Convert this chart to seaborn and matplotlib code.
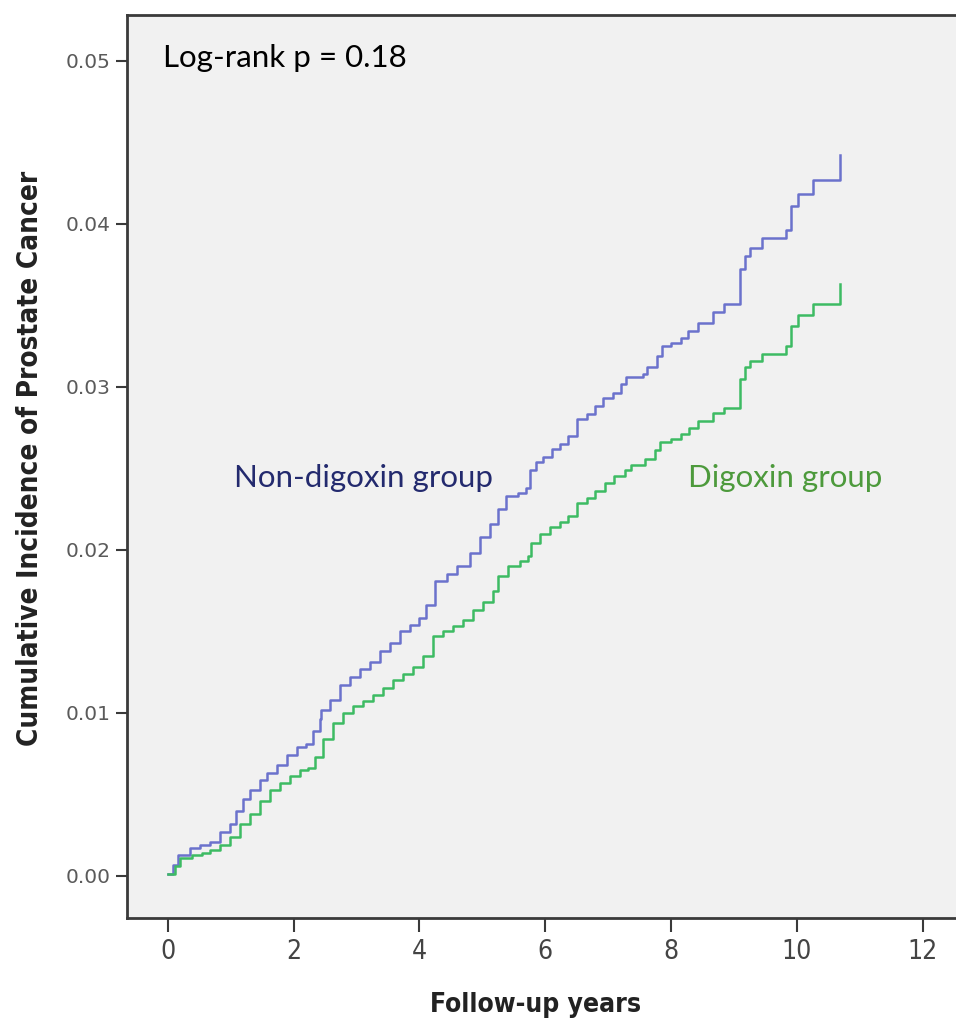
import pandas as pd
import matplotlib
matplotlib.use("Agg")
import matplotlib.pyplot as plt
import seaborn as sns

# step points (follow-up years, cumulative incidence)
non_dig_years = [0.00, 0.08, 0.16, 0.35, 0.51, 0.67, 0.83, 0.99, 1.09, 1.20,
                 1.30, 1.46, 1.57, 1.73, 1.89, 2.05, 2.20, 2.31, 2.42, 2.44,
                 2.58, 2.73, 2.89, 3.05, 3.21, 3.37, 3.53, 3.69, 3.85, 4.00,
                 4.11, 4.24, 4.43, 4.59, 4.80, 4.96, 5.12, 5.25, 5.38, 5.57,
                 5.70, 5.76, 5.86, 5.97, 6.10, 6.23, 6.36, 6.50, 6.66, 6.79,
                 6.92, 7.08, 7.20, 7.28, 7.56, 7.61, 7.77, 7.85, 8.00, 8.16,
                 8.27, 8.43, 8.67, 8.84, 9.09, 9.17, 9.25, 9.44, 9.83, 9.91,
                 10.02, 10.26, 10.68]
non_dig_inc = [0.0001, 0.0007, 0.0013, 0.0017, 0.0019, 0.0021, 0.0027, 0.0032, 0.0040, 0.0047,
               0.0053, 0.0059, 0.0063, 0.0068, 0.0074, 0.0079, 0.0081, 0.0089, 0.0096, 0.0102,
               0.0108, 0.0117, 0.0122, 0.0127, 0.0131, 0.0138, 0.0143, 0.0150, 0.0154, 0.0158,
               0.0166, 0.0181, 0.0185, 0.0190, 0.0198, 0.0208, 0.0216, 0.0225, 0.0233, 0.0235,
               0.0238, 0.0249, 0.0254, 0.0257, 0.0262, 0.0265, 0.0270, 0.0280, 0.0283, 0.0288,
               0.0293, 0.0296, 0.0302, 0.0306, 0.0308, 0.0312, 0.0319, 0.0325, 0.0327, 0.0330,
               0.0334, 0.0339, 0.0346, 0.0351, 0.0372, 0.0380, 0.0385, 0.0391, 0.0396, 0.0411,
               0.0418, 0.0427, 0.0442]

dig_years = [0.00, 0.11, 0.19, 0.38, 0.54, 0.67, 0.83, 0.99, 1.14, 1.30,
             1.46, 1.62, 1.78, 1.94, 2.10, 2.23, 2.34, 2.47, 2.63, 2.79,
             2.95, 3.11, 3.26, 3.42, 3.58, 3.74, 3.90, 4.06, 4.22, 4.38,
             4.54, 4.69, 4.85, 5.01, 5.17, 5.25, 5.41, 5.60, 5.73, 5.78,
             5.91, 6.07, 6.23, 6.36, 6.50, 6.66, 6.79, 6.95, 7.10, 7.27,
             7.37, 7.58, 7.74, 7.82, 8.00, 8.16, 8.29, 8.43, 8.67, 8.84,
             9.09, 9.17, 9.25, 9.44, 9.83, 9.91, 10.02, 10.26, 10.68]
dig_inc = [0.0001, 0.0006, 0.0011, 0.0013, 0.0014, 0.0016, 0.0019, 0.0024, 0.0032, 0.0038,
           0.0046, 0.0053, 0.0057, 0.0061, 0.0065, 0.0066, 0.0073, 0.0084, 0.0094, 0.0100,
           0.0104, 0.0107, 0.0111, 0.0115, 0.0120, 0.0124, 0.0128, 0.0135, 0.0147, 0.0150,
           0.0153, 0.0157, 0.0163, 0.0168, 0.0175, 0.0184, 0.0190, 0.0193, 0.0196, 0.0204,
           0.0210, 0.0214, 0.0217, 0.0221, 0.0229, 0.0232, 0.0236, 0.0241, 0.0245, 0.0249,
           0.0252, 0.0256, 0.0261, 0.0266, 0.0268, 0.0271, 0.0275, 0.0279, 0.0284, 0.0287,
           0.0305, 0.0312, 0.0316, 0.0320, 0.0325, 0.0337, 0.0344, 0.0351, 0.0363]

x_ticks = [0, 2, 4, 6, 8, 10, 12]
y_ticks = [0.00, 0.01, 0.02, 0.03, 0.04, 0.05]

df = pd.concat([
    pd.DataFrame({"years": non_dig_years, "inc": non_dig_inc, "group": "Non-digoxin group"}),
    pd.DataFrame({"years": dig_years, "inc": dig_inc, "group": "Digoxin group"}),
])

palette = {"Non-digoxin group": "#6b72cc", "Digoxin group": "#3dbb63"}

fig = plt.figure(figsize=(9.56, 10.18), dpi=100)
ax = fig.add_axes([127 / 956, 1 - 918 / 1018, 1 - 127 / 956, (918 - 15) / 1018])
ax.set_facecolor("#f1f1f1")

sns.lineplot(data=df, x="years", y="inc", hue="group", palette=palette,
             estimator=None, sort=True, drawstyle="steps-post",
             linewidth=1.8, legend=False, ax=ax)

ax.set_xlim(-0.65, 12.53)
ax.set_ylim(-0.00258, 0.0528)
ax.set_xticks(x_ticks)
ax.set_yticks(y_ticks)
ax.set_xticklabels([str(t) for t in x_ticks])
ax.set_yticklabels([f"{t:.2f}" for t in y_ticks])

for side in ["left", "top", "bottom"]:
    ax.spines[side].set_color("#3a3a3a")
    ax.spines[side].set_linewidth(2)
ax.spines["right"].set_visible(False)

narrow = ["DejaVu Sans Condensed", "Liberation Sans Narrow", "DejaVu Sans"]
ax.tick_params(axis="x", direction="out", length=10, width=1.5, color="#3a3a3a",
               labelsize=19, labelcolor="#444444", pad=5)
ax.tick_params(axis="y", direction="out", length=8, width=1.5, color="#3a3a3a",
               labelsize=14.5, labelcolor="#5a5a5a", pad=4)
for lab in ax.get_xticklabels():
    lab.set_family(narrow)
    lab.set_stretch("condensed")

ax.set_xlabel("Follow-up years", fontsize=19, fontweight="bold", family=narrow,
              fontstretch="condensed", color="#222222")
ax.set_ylabel("Cumulative Incidence of Prostate Cancer", fontsize=20, fontweight="bold",
              family=narrow, fontstretch="condensed", color="#222222")
ax.xaxis.set_label_coords(0.493, -0.082)
ax.yaxis.set_label_coords(-0.100, 0.509)

txt_font = ["Lato", "DejaVu Sans"]
ax.text(0.043, 0.952, "Log-rank p = 0.18", transform=ax.transAxes, fontsize=22.5,
        family=txt_font, color="black", va="center", ha="left")
ax.text(0.129, 0.487, "Non-digoxin group", transform=ax.transAxes, fontsize=22.5,
        family=txt_font, color="#232a6e", va="center", ha="left")
ax.text(0.677, 0.487, "Digoxin group", transform=ax.transAxes, fontsize=22.5,
        family=txt_font, color="#4d9a3c", va="center", ha="left")

fig.savefig("out.png", dpi=100, facecolor="white")
